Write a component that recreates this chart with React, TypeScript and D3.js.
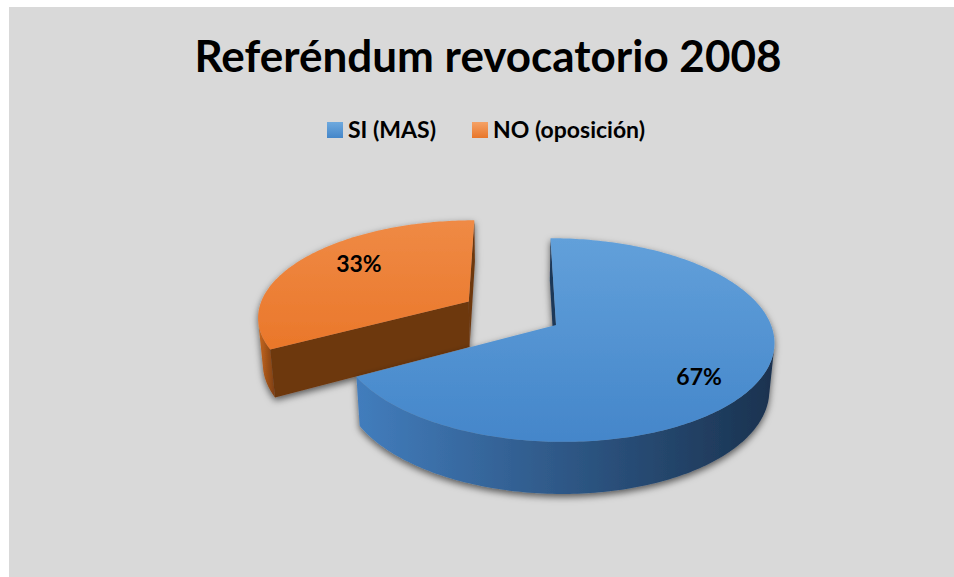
// 3D exploded pie (Excel style) — projected by hand, paths through d3.line
import { useMemo } from "react";
import * as d3 from "d3";

const title = "Referéndum revocatorio 2008";
const categories = ["SI (MAS)", "NO (oposición)"];
const values = [67, 33];
const labels = ["67%", "33%"];
const explodeBy = [0, 0.48];

const topColors = [
  ["#62a0da", "#4486ca"],
  ["#ef8a45", "#ea772a"],
];
const sideColors = [
  ["#427dbd", "#1a324f"],
  ["#c9681f", "#7a3d12"],
];
const faceColors = ["#1f3858", "#6d3711"];
const legendColors = [
  ["#6ea9de", "#4486c9"],
  ["#f5a266", "#e8762a"],
];

const W = 954;
const H = 577;
const FONT = "Lato, 'Open Sans', sans-serif";

// camera for the 3D look
const VIEW = {
  K: 1290,
  D: 6,
  tilt: (27.6 * Math.PI) / 180,
  X0: 513,
  Y0: 325,
  xo: 0.2,
  thick: 0.25,
};
const LABEL_R = 0.7;
const LABEL_NUDGE = [
  [4, 14],
  [7, -6],
];
const LEGEND_X = [327, 472];

type P3 = [number, number, number];
type P2 = [number, number];

function project([x, y, z]: P3): P2 {
  const c = Math.cos(VIEW.tilt);
  const s = Math.sin(VIEW.tilt);
  const depth = VIEW.D + y * c - z * s;
  return [
    VIEW.X0 + (VIEW.K * (x + VIEW.xo)) / depth,
    VIEW.Y0 - (VIEW.K * (y * s + z * c)) / depth,
  ];
}

const cam: P3 = [
  -VIEW.xo,
  -VIEW.D * Math.cos(VIEW.tilt),
  VIEW.D * Math.sin(VIEW.tilt),
];

const closed = d3.line<P2>().curve(d3.curveLinearClosed);

function arcPts(ox: number, oy: number, a0: number, a1: number, z: number): P3[] {
  const n = Math.max(2, Math.ceil((a1 - a0) / (Math.PI / 180)));
  return d3.range(n + 1).map((i) => {
    const a = a0 + ((a1 - a0) * i) / n;
    return [ox + Math.sin(a), oy + Math.cos(a), z] as P3;
  });
}

export default function App() {
  const slices = useMemo(() => {
    const pie = d3
      .pie<number>()
      .sort(null)
      .startAngle(0)
      .endAngle(2 * Math.PI);
    return pie(values).map((d, i) => {
      const a0 = d.startAngle;
      const a1 = d.endAngle;
      const mid = (a0 + a1) / 2;
      const ox = explodeBy[i] * Math.sin(mid);
      const oy = explodeBy[i] * Math.cos(mid);
      const zb = -VIEW.thick;

      // top face
      const topPts = [[ox, oy, 0] as P3, ...arcPts(ox, oy, a0, a1, 0)].map(project);
      const topY = d3.extent(topPts, (p) => p[1]) as [number, number];

      // outer curved side: keep only the part facing the camera
      const steps = arcPts(ox, oy, a0, a1, 0);
      const n = steps.length - 1;
      const runs: number[][] = [];
      let cur: number[] = [];
      steps.forEach((_, k) => {
        const a = a0 + ((a1 - a0) * k) / n;
        const vis =
          (cam[0] - ox) * Math.sin(a) + (cam[1] - oy) * Math.cos(a) - 1 > 0;
        if (vis) cur.push(a);
        else if (cur.length) {
          runs.push(cur);
          cur = [];
        }
      });
      if (cur.length) runs.push(cur);
      const sides = runs
        .filter((r) => r.length > 1)
        .map((r) => {
          const top = r.map((a) => project([ox + Math.sin(a), oy + Math.cos(a), 0]));
          const bot = r
            .slice()
            .reverse()
            .map((a) => project([ox + Math.sin(a), oy + Math.cos(a), zb]));
          return [...top, ...bot];
        });
      const sideX = d3.extent(sides.flat(), (p) => p[0]) as [number, number];

      // flat radial faces
      const faces: P2[][] = [];
      const radial = (a: number, nx: number, ny: number) => {
        const ex = ox + Math.sin(a);
        const ey = oy + Math.cos(a);
        const px = (ox + ex) / 2;
        const py = (oy + ey) / 2;
        if ((cam[0] - px) * nx + (cam[1] - py) * ny > 0) {
          faces.push(
            ([
              [ox, oy, 0],
              [ex, ey, 0],
              [ex, ey, zb],
              [ox, oy, zb],
            ] as P3[]).map(project)
          );
        }
      };
      radial(a0, -Math.cos(a0), Math.sin(a0));
      radial(a1, Math.cos(a1), -Math.sin(a1));

      const anchor = project([
        ox + LABEL_R * Math.sin(mid),
        oy + LABEL_R * Math.cos(mid),
        0,
      ]);

      return { i, oy, topPts, topY, sides, sideX, faces, anchor };
    });
  }, []);

  // far slices first
  const order = slices.slice().sort((a, b) => b.oy - a.oy);

  return (
    <svg
      width={W}
      height={H}
      style={{ position: "absolute", left: 0, top: 0 }}
      fontFamily={FONT}
    >
      <defs>
        <filter id="shadow" x="-20%" y="-20%" width="140%" height="150%">
          <feDropShadow dx="0" dy="3" stdDeviation="3.5" floodColor="#000" floodOpacity="0.6" />
        </filter>
        {slices.map((s) => (
          <g key={s.i}>
            <linearGradient
              id={`top${s.i}`}
              gradientUnits="userSpaceOnUse"
              x1="0"
              x2="0"
              y1={s.topY[0]}
              y2={s.topY[1]}
            >
              <stop offset="0" stopColor={topColors[s.i][0]} />
              <stop offset="1" stopColor={topColors[s.i][1]} />
            </linearGradient>
            <linearGradient
              id={`side${s.i}`}
              gradientUnits="userSpaceOnUse"
              x1={s.sideX[0]}
              x2={s.sideX[1]}
              y1="0"
              y2="0"
            >
              <stop offset="0" stopColor={sideColors[s.i][0]} />
              <stop offset="1" stopColor={sideColors[s.i][1]} />
            </linearGradient>
          </g>
        ))}
        {legendColors.map((c, i) => (
          <linearGradient key={i} id={`leg${i}`} x1="0" x2="0" y1="0" y2="1">
            <stop offset="0" stopColor={c[0]} />
            <stop offset="1" stopColor={c[1]} />
          </linearGradient>
        ))}
      </defs>

      <rect x={9} y={7} width={W - 9} height={H - 7} fill="#d9d9d9" />

      <text
        x={488}
        y={72}
        textAnchor="middle"
        fontSize={44}
        fontWeight={700}
        fill="#000"
      >
        {title}
      </text>

      {categories.map((c, i) => (
        <g key={c} transform={`translate(${LEGEND_X[i]},122)`}>
          <rect width={16} height={16} fill={`url(#leg${i})`} />
          <text x={21} y={15.5} fontSize={23} fontWeight={700} fill="#000">
            {c}
          </text>
        </g>
      ))}

      {order.map((s) => (
        <g key={s.i} filter="url(#shadow)">
          {s.sides.map((pts, k) => (
            <path key={`s${k}`} d={closed(pts) ?? ""} fill={`url(#side${s.i})`} />
          ))}
          {s.faces.map((pts, k) => (
            <path key={`f${k}`} d={closed(pts) ?? ""} fill={faceColors[s.i]} />
          ))}
          <path d={closed(s.topPts) ?? ""} fill={`url(#top${s.i})`} />
        </g>
      ))}

      {slices.map((s) => (
        <text
          key={s.i}
          x={s.anchor[0] + LABEL_NUDGE[s.i][0]}
          y={s.anchor[1] + LABEL_NUDGE[s.i][1]}
          dy="0.36em"
          textAnchor="middle"
          fontSize={23}
          fontWeight={700}
          fill="#000"
        >
          {labels[s.i]}
        </text>
      ))}
    </svg>
  );
}
